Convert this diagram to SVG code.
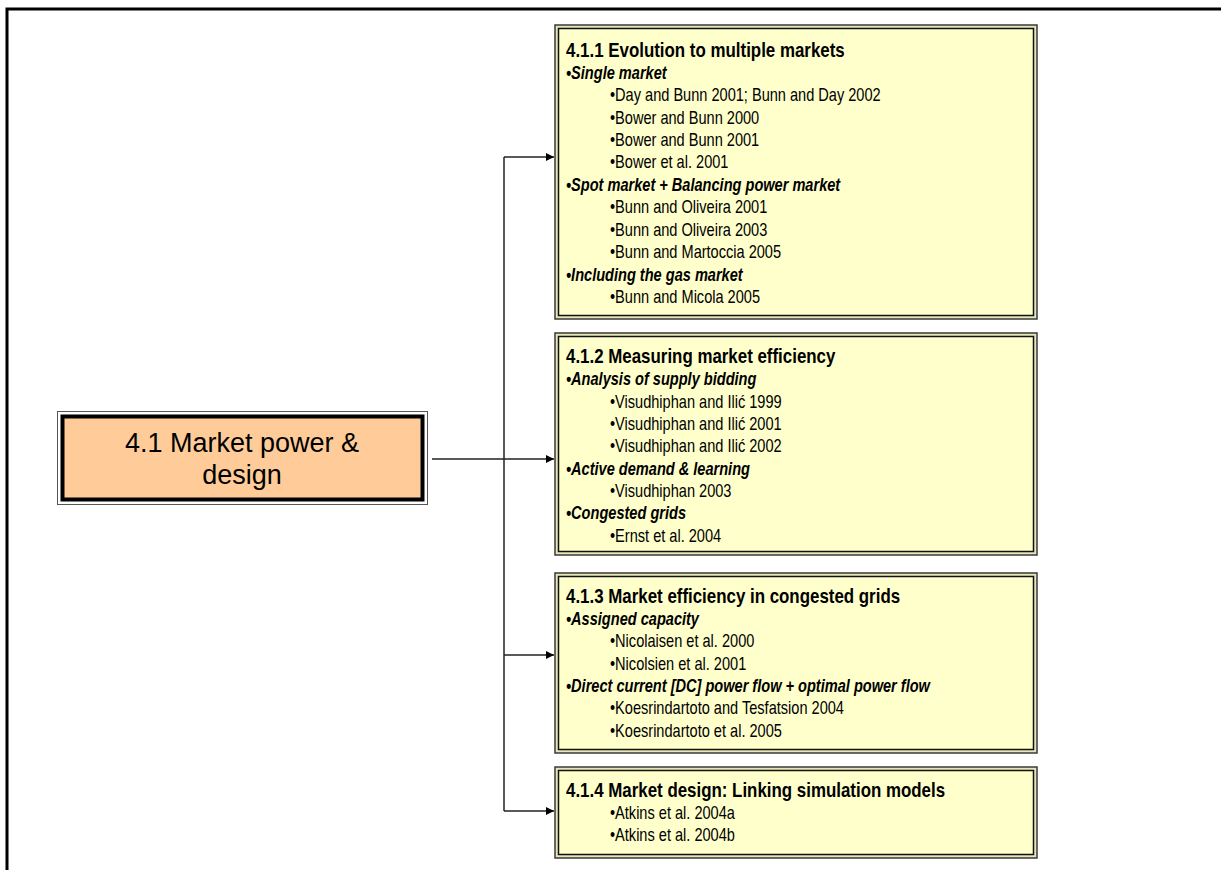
<svg xmlns="http://www.w3.org/2000/svg" width="1221" height="870" viewBox="0 0 1221 870">
  <defs>
    <marker id="arrow" viewBox="0 0 10 10" refX="10" refY="5" markerWidth="8" markerHeight="8" markerUnits="userSpaceOnUse" orient="auto">
      <path d="M0,0 L10,5 L0,10 Z" fill="#000"/>
    </marker>
    <style>
      .frame { fill: none; stroke: #000; stroke-width: 3; }
      .conn { fill: none; stroke: #222; stroke-width: 1.5; }
      .box-out { fill: #E6E6B8; stroke: #3a3a3a; stroke-width: 1.5; }
      .box-in { fill: #FFFFCC; stroke: #111; stroke-width: 1.5; }
      .root-out { fill: #fff; stroke: #555; stroke-width: 1; }
      .root-in { fill: #FFCC99; stroke: #000; stroke-width: 4; }
      .root-txt { font-family: "Liberation Sans", Arial, sans-serif; font-size: 27px; fill: #000; text-anchor: middle; }
      .t text { font-family: "Liberation Sans", Arial, sans-serif; fill: #000; }
      .h { font-size: 20px; font-weight: bold; }
      .s { font-size: 18px; font-weight: bold; font-style: italic; }
      .r { font-size: 18px; }
    </style>
  </defs>

  <!-- page frame -->
  <path class="frame" d="M7,870 V9 H1221"/>

  <!-- connectors -->
  <g id="connectors">
    <line class="conn" x1="432" y1="459" x2="554" y2="459" marker-end="url(#arrow)"/>
    <line class="conn" x1="504" y1="157" x2="504" y2="811"/>
    <line class="conn" x1="504" y1="157" x2="554" y2="157" marker-end="url(#arrow)"/>
    <line class="conn" x1="504" y1="655" x2="554" y2="655" marker-end="url(#arrow)"/>
    <line class="conn" x1="504" y1="811" x2="554" y2="811" marker-end="url(#arrow)"/>
  </g>

  <!-- root node -->
  <g id="node-4-1">
    <rect class="root-out" x="57.5" y="411.5" width="370" height="93"/>
    <rect class="root-in" x="62.5" y="416.5" width="360" height="83"/>
    <text class="root-txt" x="242" y="452">4.1 Market power &amp;</text>
    <text class="root-txt" x="242" y="484">design</text>
  </g>

  <!-- 4.1.1 : headings condensed to 0.845, body lines to 0.81 -->
  <g id="node-4-1-1">
    <rect class="box-out" x="555" y="25" width="482" height="294"/>
    <rect class="box-in" x="558.5" y="28.5" width="475" height="287"/>
    <g class="t">
      <text class="h" transform="translate(566,57) scale(0.845,1)">4.1.1 Evolution to multiple markets</text>
      <text class="s" transform="translate(566,79) scale(0.81,1)">•Single market</text>
      <text class="r" transform="translate(610,101) scale(0.81,1)">•Day and Bunn 2001; Bunn and Day 2002</text>
      <text class="r" transform="translate(610,124) scale(0.81,1)">•Bower and Bunn 2000</text>
      <text class="r" transform="translate(610,146) scale(0.81,1)">•Bower and Bunn 2001</text>
      <text class="r" transform="translate(610,168) scale(0.81,1)">•Bower et al. 2001</text>
      <text class="s" transform="translate(566,191) scale(0.81,1)">•Spot market + Balancing power market</text>
      <text class="r" transform="translate(610,213) scale(0.81,1)">•Bunn and Oliveira 2001</text>
      <text class="r" transform="translate(610,236) scale(0.81,1)">•Bunn and Oliveira 2003</text>
      <text class="r" transform="translate(610,258) scale(0.81,1)">•Bunn and Martoccia 2005</text>
      <text class="s" transform="translate(566,281) scale(0.81,1)">•Including the gas market</text>
      <text class="r" transform="translate(610,303) scale(0.81,1)">•Bunn and Micola 2005</text>
    </g>
  </g>

  <!-- 4.1.2 -->
  <g id="node-4-1-2">
    <rect class="box-out" x="555" y="333" width="482" height="222"/>
    <rect class="box-in" x="558.5" y="336.5" width="475" height="215"/>
    <g class="t">
      <text class="h" transform="translate(566,363) scale(0.845,1)">4.1.2 Measuring market efficiency</text>
      <text class="s" transform="translate(566,385) scale(0.81,1)">•Analysis of supply bidding</text>
      <text class="r" transform="translate(610,408) scale(0.81,1)">•Visudhiphan and Ilić 1999</text>
      <text class="r" transform="translate(610,430) scale(0.81,1)">•Visudhiphan and Ilić 2001</text>
      <text class="r" transform="translate(610,452) scale(0.81,1)">•Visudhiphan and Ilić 2002</text>
      <text class="s" transform="translate(566,475) scale(0.81,1)">•Active demand &amp; learning</text>
      <text class="r" transform="translate(610,497) scale(0.81,1)">•Visudhiphan 2003</text>
      <text class="s" transform="translate(566,519) scale(0.81,1)">•Congested grids</text>
      <text class="r" transform="translate(610,542) scale(0.81,1)">•Ernst et al. 2004</text>
    </g>
  </g>

  <!-- 4.1.3 -->
  <g id="node-4-1-3">
    <rect class="box-out" x="555" y="573" width="482" height="180"/>
    <rect class="box-in" x="558.5" y="576.5" width="475" height="173"/>
    <g class="t">
      <text class="h" transform="translate(566,603) scale(0.845,1)">4.1.3 Market efficiency in congested grids</text>
      <text class="s" transform="translate(566,625) scale(0.81,1)">•Assigned capacity</text>
      <text class="r" transform="translate(610,647) scale(0.81,1)">•Nicolaisen et al. 2000</text>
      <text class="r" transform="translate(610,670) scale(0.81,1)">•Nicolsien et al. 2001</text>
      <text class="s" transform="translate(566,692) scale(0.81,1)">•Direct current [DC] power flow + optimal power flow</text>
      <text class="r" transform="translate(610,714) scale(0.81,1)">•Koesrindartoto and Tesfatsion 2004</text>
      <text class="r" transform="translate(610,737) scale(0.81,1)">•Koesrindartoto et al. 2005</text>
    </g>
  </g>

  <!-- 4.1.4 -->
  <g id="node-4-1-4">
    <rect class="box-out" x="555" y="767" width="482" height="91"/>
    <rect class="box-in" x="558.5" y="770.5" width="475" height="84"/>
    <g class="t">
      <text class="h" transform="translate(566,797) scale(0.845,1)">4.1.4 Market design: Linking simulation models</text>
      <text class="r" transform="translate(610,819) scale(0.81,1)">•Atkins et al. 2004a</text>
      <text class="r" transform="translate(610,841) scale(0.81,1)">•Atkins et al. 2004b</text>
    </g>
  </g>
</svg>
